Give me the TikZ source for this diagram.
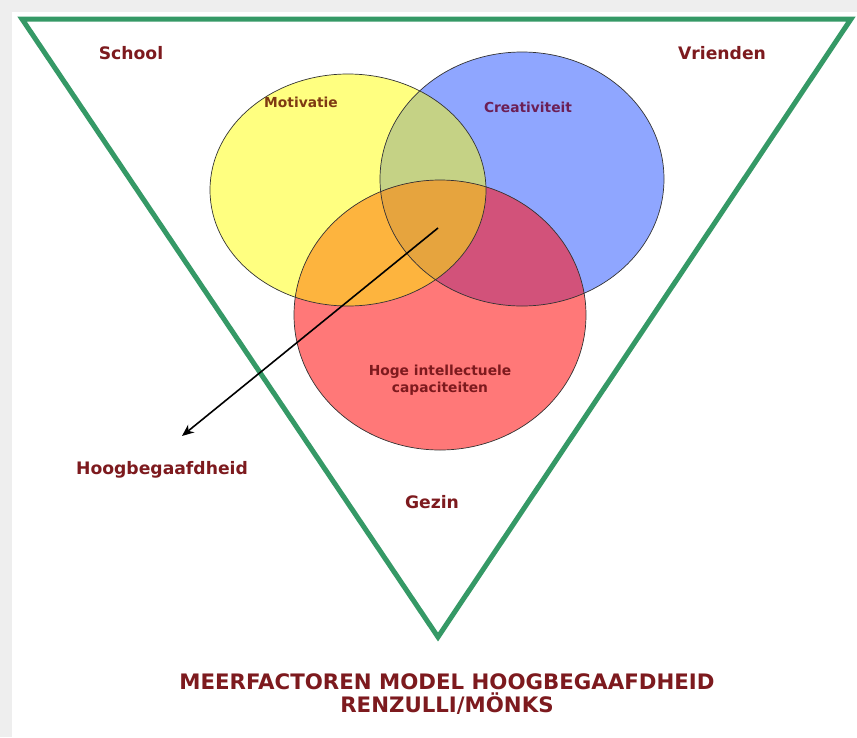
\documentclass[tikz,border=0pt]{standalone}
\usepackage{fontspec}
\setmainfont{DejaVu Sans}
\definecolor{bgGray}{HTML}{EEEEEE}
\definecolor{triGreen}{HTML}{359966}
\definecolor{txtRed}{HTML}{7D1A1E}
\definecolor{cYellow}{HTML}{FFFF80}
\definecolor{cBlue}{HTML}{8FA6FF}
\definecolor{cRed}{HTML}{FF7878}
\definecolor{cYB}{HTML}{C5D285}
\definecolor{cYR}{HTML}{FDB43E}
\definecolor{cBR}{HTML}{D2527A}
\definecolor{cYBR}{HTML}{E6A43E}
\definecolor{txtMot}{HTML}{7E3A12}
\definecolor{txtCre}{HTML}{6C1F55}
\tikzset{
  lbl/.style={font=\bfseries\fontsize{17.2}{20}\selectfont, text=txtRed, inner sep=0pt},
  smlbl/.style={font=\bfseries\fontsize{13.8}{16.5}\selectfont, text=txtRed, inner sep=0pt, align=center},
  ttl/.style={font=\bfseries\fontsize{21.3}{22.5}\selectfont, text=txtRed, inner sep=0pt, align=center},
  outline/.style={draw=black!80, line width=0.7pt},
  arrowline/.style={draw=black, line width=1.6pt, -{Stealth[length=12pt,width=10pt]}}
}
\usetikzlibrary{arrows.meta}
\begin{document}
\begin{tikzpicture}[x=1pt,y=-1pt]
\useasboundingbox (0,0) rectangle (857,737);
\fill[bgGray] (0,0) rectangle (857,737);
\fill[white] (12,12) rectangle (857,737);
% triangle
\draw[triGreen, line width=5pt, line join=miter] (22,19) -- (851,19) -- (438,637) -- cycle;
% circle definitions
\def\yel{(348,190) ellipse [x radius=138, y radius=116]}
\def\blu{(522,179) ellipse [x radius=142, y radius=127]}
\def\rd{(440,315) ellipse [x radius=146, y radius=135]}
\fill[cYellow] \yel;
\fill[cBlue] \blu;
\fill[cRed] \rd;
\begin{scope}\clip \yel; \fill[cYB] \blu; \end{scope}
\begin{scope}\clip \yel; \fill[cYR] \rd; \end{scope}
\begin{scope}\clip \blu; \fill[cBR] \rd; \end{scope}
\begin{scope}\clip \yel; \clip \blu; \fill[cYBR] \rd; \end{scope}
\draw[outline] \yel;
\draw[outline] \blu;
\draw[outline] \rd;
% labels
\node[lbl] (school) at (131,53) {School};
\node[lbl] (vrienden) at (722,53) {Vrienden};
\node[smlbl, text=txtMot] (motivatie) at (301,102) {Motivatie};
\node[smlbl, text=txtCre] (creativiteit) at (528,107) {Creativiteit};
\node[smlbl] (hoge) at (440,380) {Hoge intellectuele\\capaciteiten};
\node[lbl] (hoog) at (162,470) {Hoogbegaafdheid};
\node[lbl] (gezin) at (432,502) {Gezin};
\node[ttl] (title) at (447,694) {MEERFACTOREN MODEL HOOGBEGAAFDHEID\\RENZULLI/MÖNKS};
% arrow
\coordinate (arrowstart) at (438,228);
\coordinate (arrowend) at (182,436);
\draw[arrowline] (arrowstart) -- (arrowend);
\end{tikzpicture}
\end{document}
